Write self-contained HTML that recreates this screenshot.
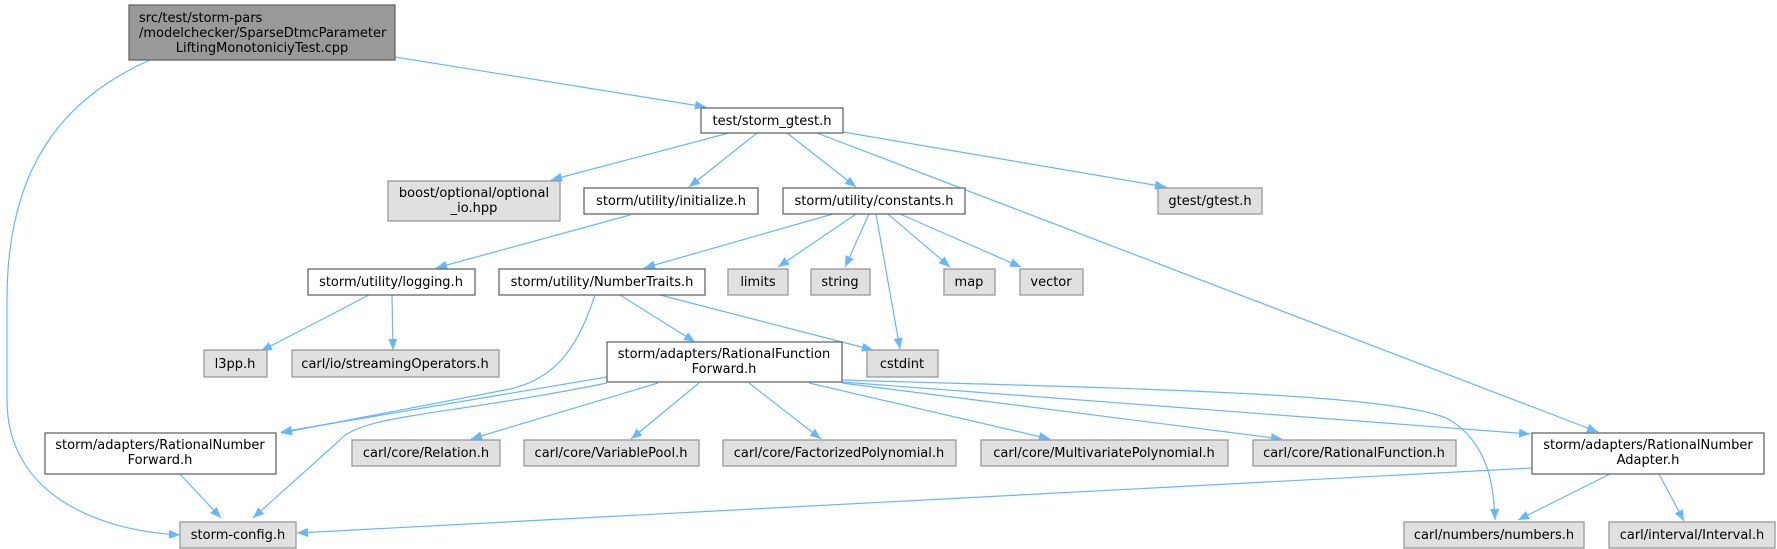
<!DOCTYPE html>
<html><head><meta charset="utf-8"><style>
html,body{margin:0;padding:0;background:#fff;}
svg{display:block;}
text{font-family:"DejaVu Sans","Liberation Sans",sans-serif;font-size:13px;fill:#000;}
.w{fill:#fff;stroke:#666;stroke-width:1.3}
.g{fill:#e0e0e0;stroke:#999;stroke-width:1.3}
.r{fill:#999;stroke:#666;stroke-width:1.3}
.e{fill:none;stroke:#63b8ff;stroke-width:1.2}
</style></head><body>
<svg width="1777" height="549" viewBox="0 0 1777 549" xmlns="http://www.w3.org/2000/svg">
<defs><marker id="a" markerUnits="userSpaceOnUse" markerWidth="12" markerHeight="10" refX="11" refY="4.5" orient="auto"><path d="M0,0 L11,4.5 L0,9 Z" fill="#63b8ff"/></marker></defs>
<g marker-end="url(#a)">
<path class="e" d="M395,57 L706,107"/>
<path class="e" d="M150,60 C60,100 7,170 7,300 L7,400 C7,490 90,530 180,535"/>
<path class="e" d="M729,133 L551,180"/>
<path class="e" d="M757,133 L689,187"/>
<path class="e" d="M787,133 L856,187"/>
<path class="e" d="M843,132 L1166,187"/>
<path class="e" d="M817,133 L1598,432"/>
<path class="e" d="M630,215 L436,268"/>
<path class="e" d="M833,214 L644,268"/>
<path class="e" d="M856,214 L778,267"/>
<path class="e" d="M869,214 L845,267"/>
<path class="e" d="M888,214 L950,267"/>
<path class="e" d="M900,214 L1021,267"/>
<path class="e" d="M876,214 L900,349"/>
<path class="e" d="M369,295 L261,351"/>
<path class="e" d="M392,295 L393,350"/>
<path class="e" d="M620,295 L695,342"/>
<path class="e" d="M660,295 L873,350"/>
<path class="e" d="M595,295 C580,340 560,380 505,390 L281,433"/>
<path class="e" d="M607,377 L281,432"/>
<path class="e" d="M607,383 C450,415 360,415 340,440 L253,518"/>
<path class="e" d="M180,474 L221,518"/>
<path class="e" d="M658,383 L471,439"/>
<path class="e" d="M699,383 L631,439"/>
<path class="e" d="M749,383 L821,439"/>
<path class="e" d="M809,383 L1050,439"/>
<path class="e" d="M842,383 L1282,439"/>
<path class="e" d="M842,382 L1530,434"/>
<path class="e" d="M842,380 C1100,388 1400,392 1450,420 C1490,445 1494,490 1495,520"/>
<path class="e" d="M1532,468 L297,533"/>
<path class="e" d="M1610,474 L1518,520"/>
<path class="e" d="M1659,474 L1684,521"/>
</g>
<rect class="r" x="129" y="5" width="266" height="55"/>
<text x="139" y="22">src/test/storm-pars</text>
<text x="139" y="37">/modelchecker/SparseDtmcParameter</text>
<text x="262" y="52" text-anchor="middle">LiftingMonotoniciyTest.cpp</text>

<rect class="w" x="701" y="108" width="142" height="25"/><text x="772" y="125" text-anchor="middle">test/storm_gtest.h</text>
<rect class="g" x="388" y="181" width="172" height="40"/><text x="474" y="197" text-anchor="middle">boost/optional/optional</text><text x="474" y="212" text-anchor="middle">_io.hpp</text>
<rect class="w" x="584" y="188" width="174" height="26"/><text x="671" y="205" text-anchor="middle">storm/utility/initialize.h</text>
<rect class="w" x="783" y="188" width="182" height="26"/><text x="874" y="205" text-anchor="middle">storm/utility/constants.h</text>
<rect class="g" x="1158" y="188" width="104" height="26"/><text x="1210" y="205" text-anchor="middle">gtest/gtest.h</text>

<rect class="w" x="308" y="269" width="167" height="26"/><text x="391" y="286" text-anchor="middle">storm/utility/logging.h</text>
<rect class="w" x="499" y="269" width="206" height="26"/><text x="602" y="286" text-anchor="middle">storm/utility/NumberTraits.h</text>
<rect class="g" x="728" y="269" width="60" height="26"/><text x="758" y="286" text-anchor="middle">limits</text>
<rect class="g" x="811" y="269" width="59" height="26"/><text x="840" y="286" text-anchor="middle">string</text>
<rect class="g" x="944" y="269" width="51" height="26"/><text x="969" y="286" text-anchor="middle">map</text>
<rect class="g" x="1020" y="269" width="63" height="26"/><text x="1051" y="286" text-anchor="middle">vector</text>

<rect class="g" x="204" y="350" width="63" height="27"/><text x="235" y="368" text-anchor="middle">l3pp.h</text>
<rect class="g" x="292" y="350" width="207" height="27"/><text x="395" y="368" text-anchor="middle">carl/io/streamingOperators.h</text>
<rect class="w" x="607" y="342" width="235" height="40"/><text x="724" y="358" text-anchor="middle">storm/adapters/RationalFunction</text><text x="724" y="373" text-anchor="middle">Forward.h</text>
<rect class="g" x="867" y="350" width="71" height="27"/><text x="902" y="368" text-anchor="middle">cstdint</text>

<rect class="w" x="45" y="433" width="231" height="41"/><text x="160" y="449" text-anchor="middle">storm/adapters/RationalNumber</text><text x="160" y="464" text-anchor="middle">Forward.h</text>
<rect class="g" x="352" y="440" width="148" height="26"/><text x="426" y="457" text-anchor="middle">carl/core/Relation.h</text>
<rect class="g" x="524" y="440" width="175" height="26"/><text x="611" y="457" text-anchor="middle">carl/core/VariablePool.h</text>
<rect class="g" x="723" y="440" width="233" height="26"/><text x="839" y="457" text-anchor="middle">carl/core/FactorizedPolynomial.h</text>
<rect class="g" x="981" y="440" width="247" height="26"/><text x="1104" y="457" text-anchor="middle">carl/core/MultivariatePolynomial.h</text>
<rect class="g" x="1253" y="440" width="203" height="26"/><text x="1354" y="457" text-anchor="middle">carl/core/RationalFunction.h</text>
<rect class="w" x="1532" y="433" width="232" height="41"/><text x="1648" y="449" text-anchor="middle">storm/adapters/RationalNumber</text><text x="1648" y="464" text-anchor="middle">Adapter.h</text>

<rect class="g" x="180" y="522" width="116" height="26"/><text x="238" y="539" text-anchor="middle">storm-config.h</text>
<rect class="g" x="1404" y="522" width="180" height="26"/><text x="1494" y="539" text-anchor="middle">carl/numbers/numbers.h</text>
<rect class="g" x="1609" y="522" width="166" height="26"/><text x="1692" y="539" text-anchor="middle">carl/interval/Interval.h</text>
</svg>
</body></html>
